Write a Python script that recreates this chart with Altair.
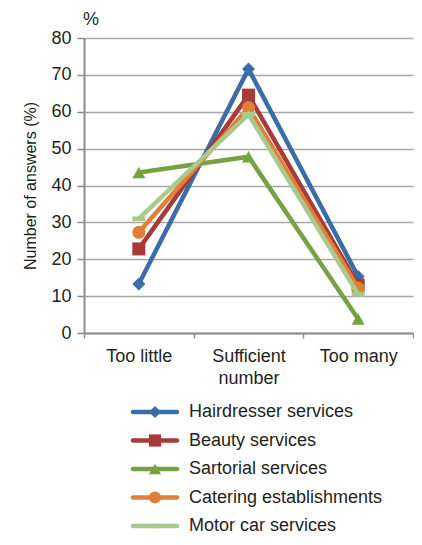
import altair as alt
import pandas as pd

categories = ["Too little", "Sufficient number", "Too many"]
series = ["Hairdresser services", "Beauty services", "Sartorial services",
          "Catering establishments", "Motor car services"]
hairdresser = [13.3, 71.6, 15.3]
beauty = [22.8, 64.5, 13.0]
sartorial = [43.5, 47.8, 3.8]
catering = [27.3, 61.1, 12.2]
motorcar = [31.0, 59.3, 10.5]
colors = ["#3A6DA8", "#A83A38", "#76A144", "#E07F36", "#A9CA8E"]
shapes = ["diamond", "square", "triangle-up", "circle",
          "M-1,-0.35L1,-0.35L1,0.35L-1,0.35Z"]

FONT = "Liberation Sans, Arial, sans-serif"
TXT = "#231f20"

values = [hairdresser, beauty, sartorial, catering, motorcar]
rows = []
for s, vals in zip(series, values):
    for c, v in zip(categories, vals):
        rows.append({"series": s, "category": c, "value": v})
df = pd.DataFrame(rows)

color_scale = alt.Scale(domain=series, range=colors)
shape_scale = alt.Scale(domain=series, range=shapes)

x_enc = alt.X("category:N", sort=categories,
              scale=alt.Scale(type="band", paddingInner=0, paddingOuter=0),
              axis=alt.Axis(title=None, tickBand="extent", grid=False,
                            domainColor="#8c8c8c", domainWidth=2,
                            tickColor="#8c8c8c", tickWidth=1.5, tickSize=5,
                            labelFont=FONT, labelFontSize=18, labelColor=TXT,
                            labelPadding=9, labelLineHeight=22,
                            labelAngle=0, labelBaseline="top",
                            labelExpr="datum.value == 'Sufficient number' ? ['Sufficient', 'number'] : datum.value"))
y_enc = alt.Y("value:Q", scale=alt.Scale(domain=[0, 80]),
              axis=alt.Axis(title="Number of answers (%)", values=list(range(0, 81, 10)),
                            titleFont=FONT, titleFontSize=16, titleFontWeight="normal",
                            titleColor=TXT, titlePadding=12,
                            labelFont=FONT, labelFontSize=18, labelColor=TXT,
                            labelPadding=6, tickSize=7, tickColor="#8c8c8c", tickWidth=1.5,
                            domainColor="#8c8c8c", domainWidth=2,
                            gridColor="#a6a6a6", gridWidth=1.5))

base = alt.Chart(df)
layers = []
for s in series:
    f = base.transform_filter(alt.datum.series == s)
    layers.append(f.mark_line(strokeWidth=4.5).encode(
        x=x_enc, y=y_enc,
        color=alt.Color("series:N", scale=color_scale, legend=None)))
    layers.append(f.mark_point(filled=True, opacity=1, size=170).encode(
        x=x_enc, y=y_enc,
        color=alt.Color("series:N", scale=color_scale, legend=None),
        shape=alt.Shape("series:N", scale=shape_scale, legend=None)))

pct = alt.Chart(pd.DataFrame({"t": ["%"]})).mark_text(
    font=FONT, fontSize=18, color=TXT, align="center", baseline="middle"
).encode(text="t:N", x=alt.value(7), y=alt.value(-18))

main = alt.layer(*layers, pct).properties(width=329, height=295)

leg_df = pd.DataFrame({"series": series})
ly = alt.Y("series:N", sort=series, axis=None,
           scale=alt.Scale(type="point", padding=0))
lc = alt.Color("series:N", scale=color_scale, legend=None)
leg_base = alt.Chart(leg_df)
leg_line = leg_base.mark_rule(strokeWidth=4.5, strokeCap="round").encode(
    x=alt.value(49), x2=alt.value(93), y=ly, color=lc)
leg_pt = leg_base.mark_point(filled=True, opacity=1, size=150).encode(
    x=alt.value(71), y=ly, color=lc,
    shape=alt.Shape("series:N", scale=shape_scale, legend=None))
leg_txt = leg_base.mark_text(font=FONT, fontSize=18, color=TXT, align="left",
                             baseline="middle").encode(
    x=alt.value(105), y=ly, text="series:N")
legend = alt.layer(leg_line, leg_pt, leg_txt).properties(width=329, height=114)

chart = alt.vconcat(main, legend, spacing=16).properties(
    padding={"left": 14, "top": 3, "right": 0, "bottom": 0}
).configure_view(stroke=None)

chart.save("out.html", embed_options={"renderer": "svg", "actions": False})
